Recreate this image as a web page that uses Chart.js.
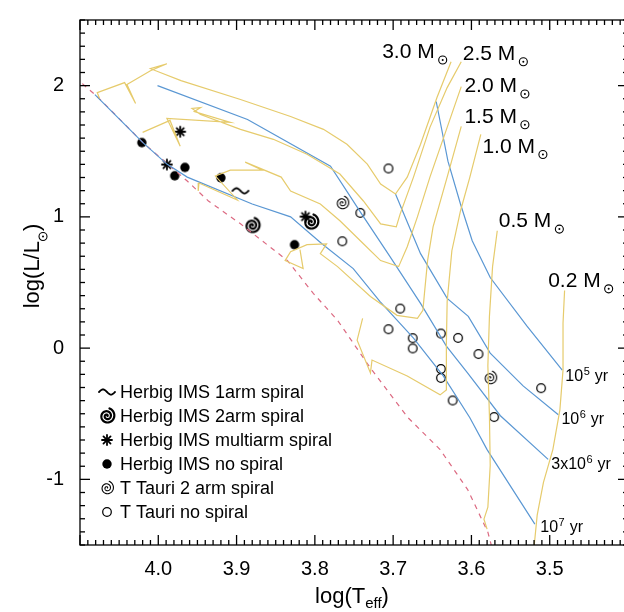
<!DOCTYPE html>
<html>
<head>
<meta charset="utf-8">
<script src="https://cdn.jsdelivr.net/npm/chart.js@4.4.0/dist/chart.umd.min.js"></script>
<style>
  html, body { margin: 0; padding: 0; overflow: hidden; background: #fff; }
  canvas { display: block; }
</style>
</head>
<body>
<canvas id="hr" width="640" height="612"></canvas>
<script>
// evolutionary tracks, [log Teff, log L/Lsun]
const track30 = [[3.626,2.182],[3.644,1.909],[3.665,1.553],[3.682,1.303],[3.697,1.174],[3.716,1.250],[3.733,1.402],[3.759,1.553],[3.789,1.667],[3.831,1.765],[3.895,1.894],[3.971,2.038],[4.010,2.129],[3.989,2.167],[4.010,2.114],[4.040,2.008],[4.029,1.864],[4.043,2.023],[4.078,1.947],[4.075,1.902]];
const track25 = [[3.613,2.182],[3.631,1.985],[3.653,1.682],[3.674,1.303],[3.691,1.023],[3.696,0.924],[3.716,0.947],[3.738,1.121],[3.768,1.326],[3.810,1.477],[3.853,1.591],[3.895,1.667],[3.946,1.780],[3.957,1.826],[3.946,1.833],[3.954,1.803],[3.908,1.720],[3.989,1.750],[3.972,1.538],[3.985,1.735],[4.020,1.644]];
const track20 = [[3.613,1.992],[3.631,1.682],[3.653,1.303],[3.669,1.000],[3.682,0.773],[3.693,0.621],[3.716,0.667],[3.738,0.795],[3.768,0.970],[3.793,1.098],[3.831,1.197],[3.843,1.303],[3.889,1.417],[3.867,1.356],[3.908,1.356],[3.927,1.311],[3.899,1.129],[3.948,1.258],[3.949,1.197]];
const track15 = [[3.613,1.689],[3.631,1.303],[3.649,0.924],[3.656,0.667],[3.660,0.417],[3.662,0.288],[3.669,0.227],[3.695,0.250],[3.729,0.394],[3.771,0.621],[3.793,0.720],[3.785,0.795],[3.810,0.788],[3.831,0.735],[3.838,0.667],[3.815,0.606],[3.819,0.750]];
const track10 = [[3.588,1.629],[3.602,1.303],[3.614,1.045],[3.625,0.742],[3.631,0.356],[3.632,0.038],[3.632,-0.318],[3.640,-0.356],[3.682,-0.212],[3.727,-0.091],[3.729,-0.189],[3.746,0.061],[3.739,0.227]];
const track05 = [[3.567,0.894],[3.573,0.621],[3.577,0.242],[3.579,-0.136],[3.577,-0.515],[3.576,-0.894],[3.579,-1.212],[3.584,-1.303],[3.580,-1.379]];
const track02 = [[3.481,0.439],[3.483,0.189],[3.483,-0.167],[3.487,-0.470],[3.496,-0.773],[3.508,-1.023],[3.516,-1.273],[3.520,-1.515],[3.521,-1.629]];

// isochrones
const iso1e5 = [[3.645,1.879],[3.630,1.424],[3.614,1.098],[3.599,0.818],[3.576,0.538],[3.529,0.167],[3.484,-0.167]];
const iso1e6 = [[3.697,1.174],[3.665,0.720],[3.631,0.379],[3.604,0.242],[3.576,-0.038],[3.534,-0.288],[3.489,-0.508]];
const iso3e6 = [[4.001,2.000],[3.886,1.742],[3.780,1.386],[3.742,1.038],[3.704,0.697],[3.665,0.341],[3.632,0.015],[3.605,-0.189],[3.563,-0.515],[3.502,-0.848]];
const iso1e7 = [[4.081,1.932],[4.020,1.568],[3.989,1.402],[3.963,1.303],[3.880,1.098],[3.831,1.000],[3.791,0.795],[3.751,0.606],[3.717,0.356],[3.674,0.076],[3.636,-0.212],[3.602,-0.530],[3.580,-0.773],[3.519,-1.341]];

// zero age main sequence
const zams = [[4.097,2.015],[4.078,1.917],[4.020,1.568],[3.991,1.417],[3.963,1.273],[3.936,1.121],[3.895,0.947],[3.835,0.667],[3.802,0.417],[3.771,0.212],[3.729,-0.152],[3.681,-0.530],[3.640,-0.773],[3.605,-1.076],[3.579,-1.402],[3.573,-1.538]];

// stars
const herbig1arm = [[3.895,1.199]];
const herbig2arm = [[3.880,0.934],[3.805,0.960]];
const herbigMulti = [[3.972,1.649],[3.989,1.399],[3.812,1.002]];
const herbigNone = [[4.021,1.566],[3.966,1.377],[3.979,1.313],[3.920,1.298],[3.826,0.788]];
const ttauri2arm = [[3.765,1.106],[3.576,-0.227]];
const ttauriNone = [[3.706,1.369],[3.742,1.030],[3.765,0.814],[3.691,0.301],[3.706,0.144],[3.675,0.076],[3.675,-0.002],[3.639,0.111],[3.617,0.078],[3.591,-0.045],[3.639,-0.159],[3.639,-0.227],[3.624,-0.399],[3.511,-0.305],[3.571,-0.525]];

const xTicks = [4.0, 3.9, 3.8, 3.7, 3.6, 3.5];
const yTicks = [-1, 0, 1, 2];
const massLabels = ['3.0', '2.5', '2.0', '1.5', '1.0', '0.5', '0.2'];
const ageLabels = [['10', '5'], ['10', '6'], ['3x10', '6'], ['10', '7']];
const legendLabels = ['Herbig IMS 1arm spiral', 'Herbig IMS 2arm spiral', 'Herbig IMS multiarm spiral',
  'Herbig IMS no spiral', 'T Tauri 2 arm spiral', 'T Tauri no spiral'];

// where the labels sit (log Teff, log L of text start / baseline)
const massLabelAt = [[3.714,2.210],[3.611,2.197],[3.609,1.952],[3.609,1.717],[3.586,1.490],[3.565,0.922],[3.502,0.467]];
const ageLabelAt = [[3.480,-0.252],[3.485,-0.581],[3.498,-0.924],[3.512,-1.402]];

const FONT = '"Liberation Sans", Arial, "DejaVu Sans", sans-serif';
const YELLOW = '#E6CB6C';
const BLUE = '#5A97D3';
const RED = '#DC6A82';

// marker glyphs
function makeSymbol(size, draw) {
  const c = document.createElement('canvas');
  c.width = size; c.height = size;
  const g = c.getContext('2d');
  g.translate(size / 2, size / 2);
  g.strokeStyle = '#000';
  g.fillStyle = '#000';
  g.lineCap = 'round';
  draw(g);
  return c;
}
function spiral(lw, r) {
  return g => {
    g.lineWidth = lw;
    g.beginPath();
    for (let i = 0; i <= 90; i++) {
      const th = i / 90 * 4.4 * Math.PI;
      const rr = 0.5 + th / (4.4 * Math.PI) * r;
      const px = rr * Math.cos(th), py = -rr * Math.sin(th);
      i ? g.lineTo(px, py) : g.moveTo(px, py);
    }
    g.stroke();
  };
}
const symFilled = makeSymbol(12, g => { g.beginPath(); g.arc(0, 0, 4.7, 0, Math.PI * 2); g.fill(); });
const symOpen = makeSymbol(12, g => { g.lineWidth = 1.25; g.beginPath(); g.arc(0, 0, 4.3, 0, Math.PI * 2); g.stroke(); });
const symStar = makeSymbol(14, g => {
  g.lineWidth = 1.8;
  for (let i = 0; i < 4; i++) {
    const a = i * Math.PI / 4;
    g.beginPath();
    g.moveTo(-5 * Math.cos(a), -5 * Math.sin(a));
    g.lineTo(5 * Math.cos(a), 5 * Math.sin(a));
    g.stroke();
  }
});
const symTilde = makeSymbol(22, g => {
  g.lineWidth = 1.8;
  g.beginPath();
  for (let i = 0; i <= 24; i++) {
    const t = -8 + i * 16 / 24;
    const v = 2.6 * Math.sin(t / 8 * Math.PI);
    i ? g.lineTo(t, v) : g.moveTo(t, v);
  }
  g.stroke();
});
const symSpiralBold = makeSymbol(22, spiral(2.2, 7.5));
const symSpiralThin = makeSymbol(20, spiral(1.1, 6.5));

const pts = arr => arr.map(([x, y]) => ({ x, y }));
const curve = (arr, color, dash) => ({
  data: pts(arr), showLine: true, borderColor: color, borderWidth: 1.2,
  borderDash: dash || [], pointRadius: 0, tension: 0, fill: false
});
const marks = (arr, sym) => ({
  data: pts(arr), showLine: false, pointStyle: sym, pointRadius: 6, pointHoverRadius: 6
});

function drawSun(ctx, x, y, r) {
  ctx.beginPath(); ctx.arc(x, y, r, 0, Math.PI * 2); ctx.stroke();
  ctx.beginPath(); ctx.arc(x, y, 1, 0, Math.PI * 2); ctx.fill();
}

const decorations = {
  id: 'decorations',
  afterDatasetsDraw(chart) {
    const { ctx, chartArea: a, scales: { x, y } } = chart;
    ctx.save();
    ctx.strokeStyle = '#000';
    ctx.fillStyle = '#000';
    ctx.lineWidth = 1.3;
    ctx.strokeRect(a.left, a.top, a.right - a.left, a.bottom - a.top);
    const seg = (x1, y1, x2, y2) => { ctx.beginPath(); ctx.moveTo(x1, y1); ctx.lineTo(x2, y2); ctx.stroke(); };
    for (let i = 340; i <= 410; i++) {
      const px = x.getPixelForValue(i / 100);
      const len = i % 10 === 0 ? 10 : 5;
      seg(px, a.bottom, px, a.bottom - len);
      seg(px, a.top, px, a.top + len);
    }
    for (let i = -15; i <= 25; i++) {
      const py = y.getPixelForValue(i / 10);
      const len = i % 10 === 0 ? 10 : 5;
      seg(a.left, py, a.left + len, py);
      seg(a.right, py, a.right - len, py);
    }

    // mass labels
    ctx.lineWidth = 1.1;
    ctx.textBaseline = 'alphabetic';
    ctx.textAlign = 'left';
    massLabels.forEach((m, i) => {
      const px = x.getPixelForValue(massLabelAt[i][0]);
      const py = y.getPixelForValue(massLabelAt[i][1]);
      ctx.font = '21px ' + FONT;
      const t = m + ' M';
      ctx.fillText(t, px, py);
      const w = ctx.measureText(t).width;
      drawSun(ctx, px + w + 8, py + 2, 4);
    });

    // age labels
    ageLabels.forEach(([base, sup], i) => {
      const px = x.getPixelForValue(ageLabelAt[i][0]);
      const py = y.getPixelForValue(ageLabelAt[i][1]);
      ctx.font = '16px ' + FONT;
      ctx.fillText(base, px, py);
      let w = ctx.measureText(base).width;
      ctx.font = '11px ' + FONT;
      ctx.fillText(sup, px + w + 0.5, py - 6);
      w += ctx.measureText(sup).width + 1;
      ctx.font = '16px ' + FONT;
      ctx.fillText(' yr', px + w, py);
    });

    // axis titles
    const xt1 = 'log(T', xt2 = 'eff', xt3 = ')';
    ctx.font = '22px ' + FONT; const w1 = ctx.measureText(xt1).width;
    ctx.font = '15px ' + FONT; const w2 = ctx.measureText(xt2).width;
    ctx.font = '22px ' + FONT; const w3 = ctx.measureText(xt3).width;
    let sx = 352 - (w1 + w2 + w3) / 2;
    const by = 603;
    ctx.font = '22px ' + FONT; ctx.fillText(xt1, sx, by); sx += w1;
    ctx.font = '15px ' + FONT; ctx.fillText(xt2, sx, by + 5); sx += w2;
    ctx.font = '22px ' + FONT; ctx.fillText(xt3, sx, by);

    ctx.save();
    ctx.translate(39, 266);
    ctx.rotate(-Math.PI / 2);
    const yt1 = 'log(L/L', yt3 = ')';
    ctx.font = '22px ' + FONT;
    const v1 = ctx.measureText(yt1).width, v3 = ctx.measureText(yt3).width;
    const sunW = 10;
    let sy = -(v1 + sunW + v3) / 2;
    ctx.fillText(yt1, sy, 0); sy += v1;
    ctx.lineWidth = 1.1;
    drawSun(ctx, sy + 4.5, 4, 4);
    sy += sunW;
    ctx.fillText(yt3, sy, 0);
    ctx.restore();

    // legend
    const syms = [symTilde, symSpiralBold, symStar, symFilled, symSpiralThin, symOpen];
    ctx.font = '18px ' + FONT;
    ctx.textBaseline = 'middle';
    legendLabels.forEach((lab, i) => {
      const cy = 392 + i * 24;
      const s = syms[i];
      ctx.drawImage(s, 107 - s.width / 2, cy - s.height / 2);
      ctx.fillText(lab, 120, cy + 1);
    });
    ctx.restore();
  }
};

new Chart(document.getElementById('hr'), {
  type: 'scatter',
  data: {
    datasets: [
      curve(track30, YELLOW), curve(track25, YELLOW), curve(track20, YELLOW), curve(track15, YELLOW),
      curve(track10, YELLOW), curve(track05, YELLOW), curve(track02, YELLOW),
      curve(iso1e5, BLUE), curve(iso1e6, BLUE), curve(iso3e6, BLUE), curve(iso1e7, BLUE),
      curve(zams, RED, [5, 5]),
      marks(herbig1arm, symTilde), marks(herbig2arm, symSpiralBold), marks(herbigMulti, symStar),
      marks(herbigNone, symFilled), marks(ttauri2arm, symSpiralThin), marks(ttauriNone, symOpen)
    ]
  },
  options: {
    responsive: false,
    animation: false,
    events: [],
    layout: { padding: { top: 14, right: 12, left: 0, bottom: 0 } },
    plugins: { legend: { display: false }, tooltip: { enabled: false } },
    scales: {
      x: {
        type: 'linear', reverse: true, min: 3.4, max: 4.1,
        grid: { display: false }, border: { display: false },
        afterBuildTicks: s => { s.ticks = xTicks.map(v => ({ value: v })); },
        ticks: {
          padding: 4, color: '#000', font: { family: FONT, size: 20 },
          callback: v => v.toFixed(1)
        },
        afterFit: s => { s.height = 67; }
      },
      y: {
        type: 'linear', min: -1.5, max: 2.5,
        grid: { display: false }, border: { display: false },
        afterBuildTicks: s => { s.ticks = yTicks.map(v => ({ value: v })); },
        ticks: {
          padding: 8, color: '#000', font: { family: FONT, size: 20 },
          callback: v => String(v)
        },
        afterFit: s => { s.width = 80; }
      }
    }
  },
  plugins: [decorations]
});
</script>
</body>
</html>
